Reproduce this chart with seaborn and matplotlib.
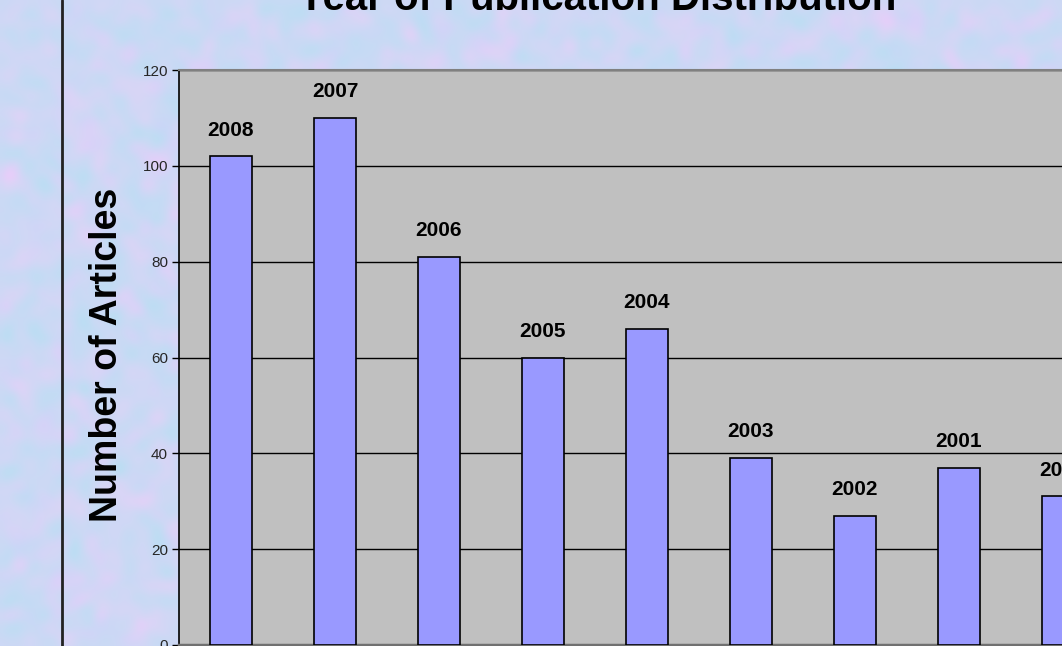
import numpy as np
import pandas as pd
import matplotlib
matplotlib.use("Agg")
import matplotlib.pyplot as plt
from matplotlib.lines import Line2D
import seaborn as sns

# Articles per publication year
years = ["2008", "2007", "2006", "2005", "2004", "2003", "2002", "2001", "2000"]
articles = [102, 110, 81, 60, 66, 39, 27, 37, 31]
yticks = [0, 20, 40, 60, 80, 100, 120]

df = pd.DataFrame({"year": years, "articles": articles})

sns.set_theme(style="white")
plt.rcParams["font.family"] = ["Liberation Sans", "DejaVu Sans"]

W, H = 1062, 646
fig = plt.figure(figsize=(W / 100, H / 100), dpi=100)


def smooth_noise(rng, shape, passes=3):
    """Smoothed noise, normalised to unit variance."""
    a = rng.normal(size=shape)
    k = np.ones(3) / 3
    for _ in range(passes):
        a = np.apply_along_axis(lambda r: np.convolve(r, k, mode="same"), 1, a)
        a = np.apply_along_axis(lambda c: np.convolve(c, k, mode="same"), 0, a)
    return a / a.std()


# Soft mottled pastel backdrop
rng = np.random.default_rng(11)
gh, gw = H // 4, W // 4
blue = smooth_noise(rng, (gh, gw))
pink = smooth_noise(rng, (gh, gw))
base = np.array([0.80, 0.85, 0.96])
img = (base
       + 0.022 * blue[..., None] * np.array([-1.0, 0.3, -0.1])
       + 0.014 * np.clip(pink, 0, None)[..., None] * np.array([1.0, -0.6, 0.3]))
img = np.clip(img, 0, 1)
bg = fig.add_axes([0, 0, 1, 1], zorder=-10)
bg.imshow(img, aspect="auto", interpolation="bicubic", extent=[0, 1, 0, 1])
bg.set_axis_off()

# Frame line on the left
fig.add_artist(Line2D([62.5 / W, 62.5 / W], [0, 1], color="#222222", lw=2))

ax = fig.add_axes([179 / W, 1 / H, 1040 / W, 575 / H])
ax.set_facecolor("#C0C0C0")
sns.barplot(data=df, x="year", y="articles", order=years, color="#9999FF",
            saturation=1, edgecolor="black", linewidth=1.2, width=0.4, ax=ax, zorder=3)
ax.bar_label(ax.containers[0], labels=years, padding=12, fontsize=15,
             fontweight="bold", color="black")

ax.set_xlim(-0.5, 9.5)
ax.set_ylim(0, 120)
ax.set_yticks(yticks)
ax.set_yticklabels([str(t) for t in yticks], fontsize=11)
ax.set_xticks([])
ax.set_xlabel("")
ax.set_ylabel("")
ax.tick_params(axis="y", direction="out", length=5, width=1, color="black", pad=3, left=True)
ax.yaxis.grid(True, color="black", lw=1)
ax.set_axisbelow(True)
for g in ax.get_ygridlines():
    g.set_zorder(1)
ax.spines["left"].set_color("black")
ax.spines["left"].set_linewidth(1.2)
ax.spines["top"].set_color("#808080")
ax.spines["top"].set_linewidth(1.5)
ax.spines["bottom"].set_color("#707070")
ax.spines["bottom"].set_linewidth(2.5)
ax.spines["right"].set_visible(False)

fig.text(597 / W, 1 - 10 / H, "Year of Publication Distribution", ha="center", va="baseline",
         fontsize=29, fontweight="bold", color="black")
fig.text(107 / W, 1 - 355 / H, "Number of Articles", ha="center", va="center", rotation=90,
         fontsize=27, fontweight="bold", color="black")

fig.savefig("out.png", dpi=100)
